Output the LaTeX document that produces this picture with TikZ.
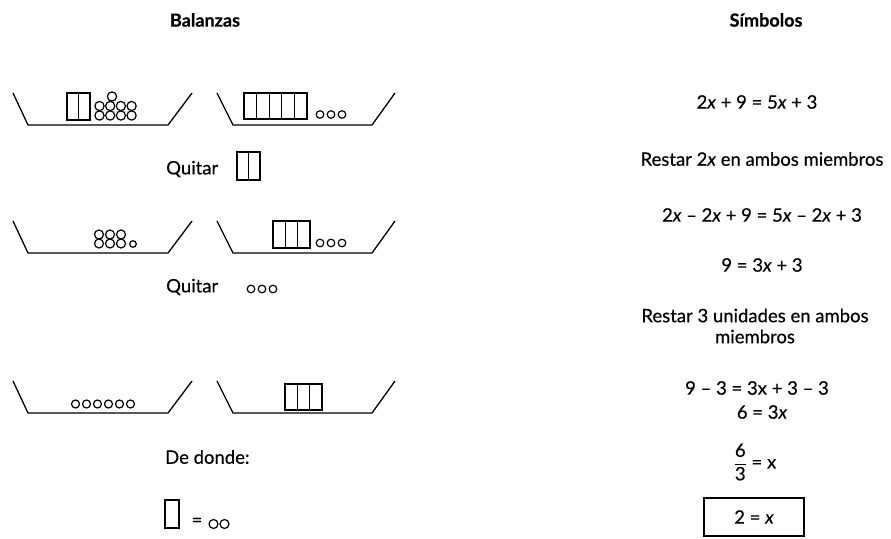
\documentclass[tikz,border=0pt]{standalone}
\usepackage{fontspec}
\setmainfont{Lato}[FakeBold=0.4]
\usepackage{amsmath}
\begin{document}
\begin{tikzpicture}[x=1pt,y=-1pt,
  pan/.style={line width=1.3pt, line join=miter},
  bar/.style={line width=1.3pt},
  unit/.style={line width=1.2pt},
  txt/.style={font=\fontsize{18.5}{21}\selectfont, inner sep=0pt, align=center},
  head/.style={font=\fontsize{18}{21}\selectfont\bfseries, inner sep=0pt}]
\useasboundingbox (0,0) rectangle (891,538);

% a row of n strips (unknowns): x0, top, n, strip width, height
\newcommand\strips[5]{\foreach \i in {1,...,#3}
  \draw[bar] ({#1+(\i-1)*#4},#2) rectangle ++(#4,#5);}
% a row of n circles (units): x0, y, n, step, radius
\newcommand\units[5]{\foreach \i in {1,...,#3}
  \draw[unit] ({#1+(\i-1)*#4},#2) circle[radius=#5];}
% the two pans of a balance, top edge at y
\newcommand\balance[1]{%
  \draw[pan] (13,#1) -- ++(15,32) -- ++(140,0) -- ++(24,-32);
  \draw[pan] (217,#1) -- ++(16,32) -- ++(139,0) -- ++(23,-32);}

% headings
\node[head] (h1) at (205,20) {Balanzas};
\node[head] (h2) at (766,20) {Símbolos};

% balance 1: 2x + 9 = 5x + 3
\balance{93}
\strips{67}{93}{2}{11.5}{27}
\units{99.5}{115.5}{4}{10.7}{4.6}
\units{99.5}{106}{4}{10.7}{4.6}
\draw[unit] (112,96.5) circle[radius=4.6];
\strips{244}{93}{5}{12.6}{26}
\units{320}{114.5}{3}{11}{3.8}

\node[txt, anchor=west] (q1) at (166,169) {Quitar};
\strips{237}{152}{2}{11.5}{28}

% balance 2: 9 = 3x + 3
\balance{221}
\units{99}{234.5}{3}{11}{4.5}
\units{99}{243.5}{3}{11}{4.5}
\draw[unit] (133,244) circle[radius=3.3];
\strips{273}{221}{3}{12.3}{27}
\units{320}{243}{3}{11}{3.8}

\node[txt, anchor=west] (q2) at (166,287) {Quitar};
\units{251}{289}{3}{11}{3.8}

% balance 3: 6 = 3x
\balance{381}
\units{75.5}{404}{6}{11}{4}
\strips{285}{384}{3}{12.3}{26}

\node[txt, anchor=west] (dd) at (165,457) {De donde:};
\strips{165}{500}{1}{14}{28}
\node[txt] (eq) at (197,522) {=};
\units{213.5}{524}{2}{11}{4.5}

% symbolic column
\node[txt] (s1) at (757,102) {2\textit{x} + 9 = 5\textit{x} + 3};
\node[txt] (s2) at (762,159) {Restar 2\textit{x} en ambos miembros};
\node[txt] (s3) at (762,215) {2\textit{x} – 2\textit{x} + 9 = 5\textit{x} – 2\textit{x} + 3};
\node[txt] (s4) at (762,265) {9 = 3\textit{x} + 3};
\node[txt] (s5) at (755,326) {Restar 3 unidades en ambos\\miembros};
\node[txt] (s6) at (757,388) {9 – 3 = 3x + 3 – 3};
\node[txt] (s7) at (762,412) {6 = 3\textit{x}};
\node[txt] (s8) at (755,462) {$\dfrac{\text{6}}{\text{3}}$ = x};
\node[txt, draw, line width=1.3pt, minimum width=100pt, minimum height=38pt] (s9) at (754,517) {2 = \textit{x}};
\end{tikzpicture}
\end{document}
